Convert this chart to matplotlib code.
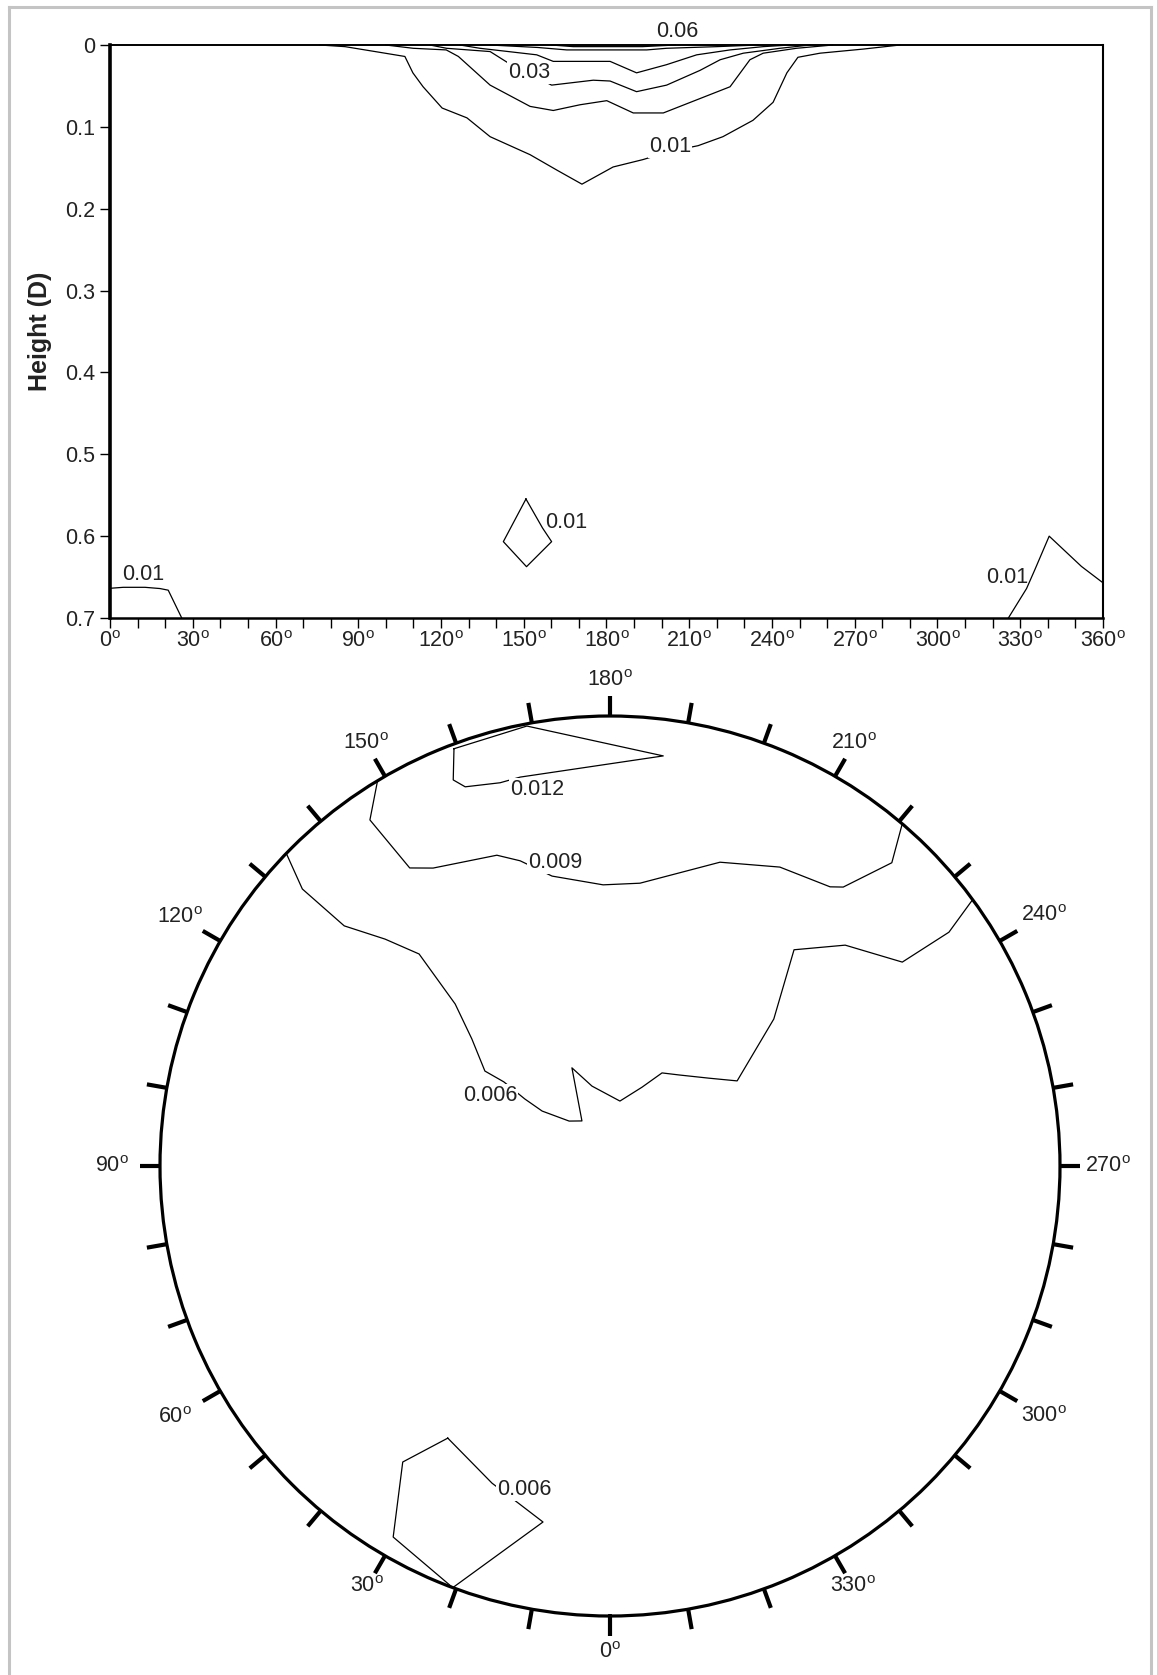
import numpy as np
import matplotlib
matplotlib.use('Agg')
import matplotlib.pyplot as plt
from matplotlib.lines import Line2D

plt.rcParams['font.family'] = ['Liberation Sans', 'DejaVu Sans']
plt.rcParams['mathtext.fontset'] = 'custom'
plt.rcParams['mathtext.rm'] = 'Liberation Sans'
plt.rcParams['mathtext.it'] = 'Liberation Sans'

# ── Dati pannello superiore: angolo (gradi) / altezza (D) ───────────────
C001_ANG = [76.1, 85.2, 97.9, 106.9, 109.8, 113.5, 120.4, 129.4, 137.8, 152.3, 162.1, 171.1,
            182.4, 193.2, 203.0, 213.2, 222.2, 233.1, 240.4, 245.4, 249.4, 257.4, 273.0, 286.4]
C001_H = [0, 0.002, 0.009, 0.014, 0.034, 0.051, 0.077, 0.089, 0.112, 0.134, 0.153, 0.170,
          0.149, 0.140, 0.130, 0.123, 0.112, 0.092, 0.070, 0.034, 0.015, 0.010, 0.005, 0]
C002_ANG = [100.0, 109.9, 121.9, 126.3, 137.8, 152.3, 160.7, 170.4, 180.1, 189.7, 200.6,
            212.7, 224.8, 232.0, 236.8, 248.9, 262.0]
C002_H = [0, 0.004, 0.006, 0.014, 0.049, 0.075, 0.080, 0.073, 0.068, 0.083, 0.083,
          0.067, 0.051, 0.018, 0.010, 0.004, 0]
C003_ANG = [116.0, 122.0, 137.8, 144.4, 152.0, 160.1, 175.2, 181.3, 190.9, 201.8, 213.9,
            221.2, 229.6, 242.9, 253.8]
C003_H = [0, 0.004, 0.008, 0.022, 0.035, 0.049, 0.043, 0.044, 0.057, 0.049, 0.031,
          0.018, 0.010, 0.004, 0]
C004_ANG = [126.9, 134.1, 154.7, 160.7, 181.3, 190.9, 201.8, 212.7, 224.8, 236.8, 246.5]
C004_H = [0, 0.004, 0.012, 0.020, 0.020, 0.034, 0.024, 0.012, 0.006, 0.002, 0]
C005_ANG = [137.8, 155.0, 165.6, 194.6, 201.8, 220.0, 235.0]
C005_H = [0, 0.003, 0.006, 0.006, 0.004, 0.002, 0]
C006_ANG = [160.0, 168.0, 193.0, 205.0]
C006_H = [0, 0.002, 0.002, 0]
LOW_LEFT_ANG = [0, 4.8, 12.7, 18.1, 21.1, 26.0]
LOW_LEFT_H = [0.6637, 0.6625, 0.6625, 0.664, 0.666, 0.70]
DIAMOND_ANG = [150.8, 142.6, 151.0, 160.1, 156.8, 150.8]
DIAMOND_H = [0.5546, 0.6067, 0.6373, 0.6067, 0.590, 0.5546]
LOW_RIGHT_ANG = [325.7, 332.3, 335.3, 340.5, 352.2, 360.0]
LOW_RIGHT_H = [0.70, 0.664, 0.641, 0.600, 0.637, 0.657]

TOP_LINES = [(C001_ANG, C001_H), (C002_ANG, C002_H), (C003_ANG, C003_H),
             (C004_ANG, C004_H), (C005_ANG, C005_H), (C006_ANG, C006_H),
             (LOW_LEFT_ANG, LOW_LEFT_H), (DIAMOND_ANG, DIAMOND_H), (LOW_RIGHT_ANG, LOW_RIGHT_H)]
# etichette: testo, angolo, altezza, mascherata
TOP_LABELS = [('0.06', 205.6, -0.016, False), ('0.03', 151.9, 0.034, True),
              ('0.01', 203.0, 0.124, True), ('0.01', 12.0, 0.647, False),
              ('0.01', 165.3, 0.583, False), ('0.01', 325.2, 0.650, False)]
Y_TICKS = [0, 0.1, 0.2, 0.3, 0.4, 0.5, 0.6, 0.7]
Y_TICKLABELS = ['0', '0.1', '0.2', '0.3', '0.4', '0.5', '0.6', '0.7']
X_TICKS = list(range(0, 361, 30))

# ── Dati pannello polare: theta (gradi) / raggio normalizzato ───────────
P012_TH = [159.5, 169.3, 187.4, 167.0, 164.0, 159.1, 157.9, 159.5]
P012_R = [0.99, 0.995, 0.919, 0.887, 0.886, 0.902, 0.926, 0.99]
P009_TH = [148.9, 145.25, 146.1, 149.3, 160.0, 163.6, 168.7, 178.6, 186.05, 199.9, 209.6,
           218.25, 219.9, 222.9, 220.5]
P009_R = [1.0, 0.936, 0.798, 0.770, 0.735, 0.707, 0.657, 0.625, 0.632, 0.718, 0.764,
          0.790, 0.808, 0.920, 1.0]
P006_TH = [134.0, 132.0, 132.1, 135.25, 138.0, 136.3, 132.6, 127.2, 128.4, 128.2, 129.0,
           137.7, 148.1, 158.8, 167.3, 188.7, 202.1, 209.2, 217.2, 228.4, 236.2, 228.1,
           220.4, 226.8, 235.1, 235.4, 233.7]
P006_R = [1.0, 0.920, 0.796, 0.710, 0.634, 0.498, 0.417, 0.349, 0.301, 0.241, 0.194,
          0.135, 0.118, 0.234, 0.182, 0.146, 0.189, 0.237, 0.254, 0.294, 0.340, 0.489,
          0.631, 0.717, 0.792, 0.915, 1.0]
P006B_TH = [30.8, 35.0, 30.3, 20.45, 10.66, 15.27, 20.4, 30.8]
P006B_R = [0.704, 0.803, 0.955, 1.0, 0.805, 0.776, 0.752, 0.704]
POLAR_LINES = [(P012_TH, P012_R), (P009_TH, P009_R), (P006_TH, P006_R), (P006B_TH, P006B_R)]
POLAR_LABELS = [('0.012', 169.1, 0.853), ('0.009', 169.7, 0.685),
                ('0.006', 120.3, 0.309), ('0.006', 14.9, 0.743)]
POLAR_TICKS = list(range(0, 360, 10))
POLAR_TICKLABELS = list(range(0, 360, 30))
# distanza radiale delle etichette angolari (posizionamento)
LABEL_DIST = {0: 1.08, 30: 1.08, 60: 1.116, 90: 1.107, 120: 1.104, 150: 1.084,
              180: 1.078, 210: 1.085, 240: 1.113, 270: 1.107, 300: 1.113, 330: 1.08}

TXT = '#222222'
FS = 15.5

fig = plt.figure(figsize=(11.57, 16.75), dpi=100)

# cornice grigia
for xs, ys in [([0.0074, 0.0074], [0, 0.9958]), ([0.0074, 0.9948], [0.9958, 0.9958]),
               ([0.9948, 0.9948], [0, 0.9958])]:
    fig.add_artist(Line2D(xs, ys, color='#c4c4c4', lw=2.2, transform=fig.transFigure))

# ── Pannello superiore ──────────────────────────────────────────────────
ax = fig.add_axes([0.0951, 0.63104, 0.8582, 0.34209])
for a, h in TOP_LINES:
    ax.plot(a, h, color='black', lw=0.9, clip_on=False, zorder=2)
for txt, a, h, masked in TOP_LABELS:
    kw = dict(boxstyle='square,pad=0.05', fc='white', ec='none') if masked else None
    ax.text(a, h, txt, ha='center', va='center', fontsize=FS, color=TXT,
            bbox=kw, clip_on=False, zorder=3)
ax.set_xlim(0, 360)
ax.set_ylim(0.7, 0)
ax.set_yticks(Y_TICKS)
ax.set_yticklabels(Y_TICKLABELS)
ax.set_xticks(X_TICKS)
ax.set_xticklabels([f'{v}$^\\mathrm{{o}}$' for v in X_TICKS])
ax.set_xticks(range(0, 361, 10), minor=True)
ax.tick_params(axis='both', which='both', direction='out', length=7, width=1,
               labelsize=FS, labelcolor=TXT)
ax.tick_params(axis='x', which='major', pad=2)
ax.spines['left'].set_linewidth(2.6)
ax.spines['bottom'].set_linewidth(1.8)
ax.spines['top'].set_linewidth(1.4)
ax.spines['right'].set_linewidth(1.5)
ax.set_ylabel('Height (D)', fontsize=18, fontweight='bold', color=TXT)
ax.yaxis.set_label_coords(-0.058, 0.5)

# ── Pannello polare ─────────────────────────────────────────────────────
pax = fig.add_axes([0.13829, 0.03522, 0.77787, 0.53731], projection='polar')
pax.set_theta_zero_location('S')
pax.set_theta_direction(-1)
pax.set_rlim(0, 1)
pax.set_xticks([])
pax.set_yticks([])
pax.grid(False)
pax.spines['polar'].set_linewidth(2.3)
for th, r in POLAR_LINES:
    pax.plot(np.deg2rad(th), r, color='black', lw=0.9, zorder=2)
for txt, th, r in POLAR_LABELS:
    pax.text(np.deg2rad(th), r, txt, ha='center', va='center', fontsize=FS, color=TXT,
             bbox=dict(boxstyle='square,pad=0.05', fc='white', ec='none'), zorder=3)
for d in POLAR_TICKS:
    t = np.deg2rad(d)
    pax.plot([t, t], [1.0, 1.045], color='black', lw=3, clip_on=False,
             solid_capstyle='butt')
for d in POLAR_TICKLABELS:
    pax.text(np.deg2rad(d), LABEL_DIST[d], f'{d}$^\\mathrm{{o}}$', ha='center',
             va='center', fontsize=FS, color=TXT, clip_on=False)

plt.savefig('out.png', dpi=100)
